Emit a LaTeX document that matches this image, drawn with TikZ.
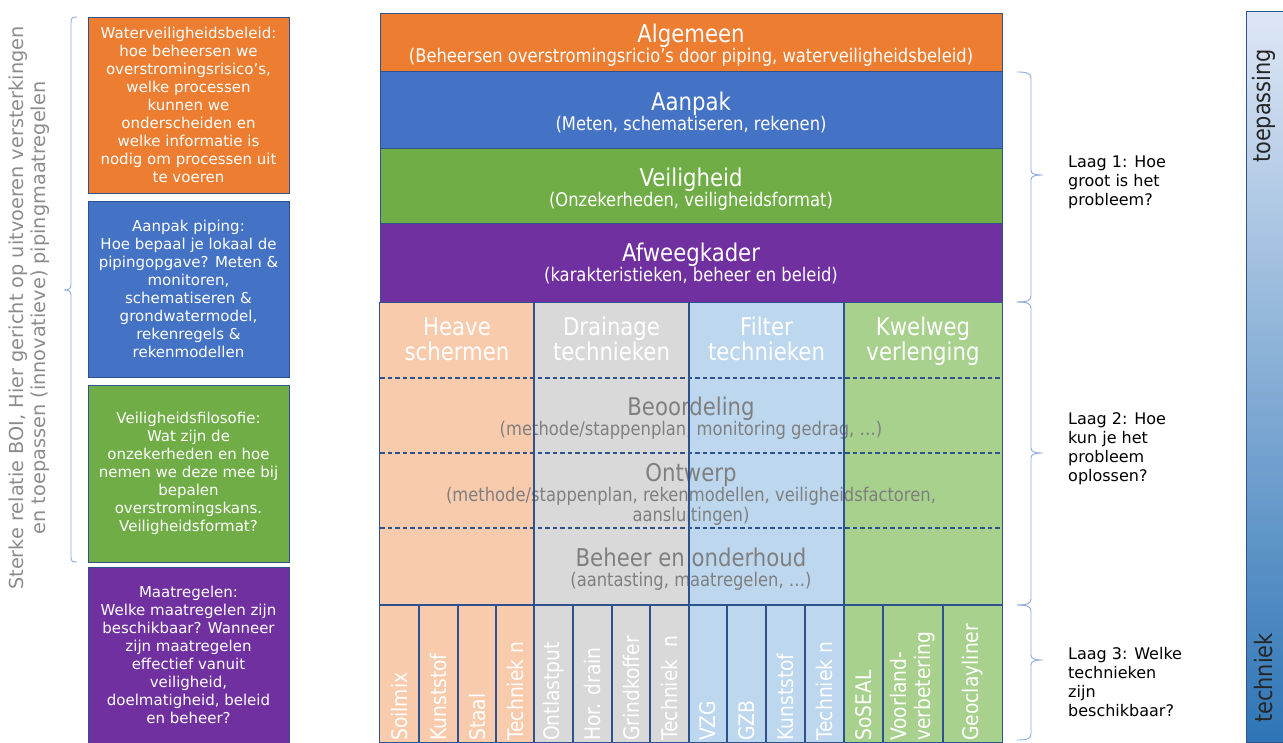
\documentclass[tikz,border=0pt]{standalone}
\usepackage{fontspec}
\setmainfont{DejaVu Sans}
\newfontfamily\smalfont[FakeStretch=0.87]{DejaVu Sans}
\usetikzlibrary{positioning}

\definecolor{oranje}{HTML}{ED7D31}
\definecolor{blauw}{HTML}{4472C4}
\definecolor{groen}{HTML}{70AD47}
\definecolor{paars}{HTML}{7030A0}
\definecolor{lichtoranje}{HTML}{F8CBAD}
\definecolor{lichtgrijs}{HTML}{D9D9D9}
\definecolor{lichtblauw}{HTML}{BDD7EE}
\definecolor{lichtgroen}{HTML}{A9D18E}
\definecolor{rand}{HTML}{2F528F}
\definecolor{haak}{HTML}{8FAADC}
\definecolor{tekstgrijs}{HTML}{7F7F7F}
\definecolor{zijgrijs}{HTML}{8C8C8C}
\definecolor{balkboven}{HTML}{DEE7F5}
\definecolor{balkonder}{HTML}{2E75B6}

\begin{document}
\begin{tikzpicture}[x=1pt,y=-1pt,
		vak/.style={draw=rand, line width=0.6pt, inner sep=0pt, align=center, text=white, minimum width=201pt, font=\fontsize{15}{18}\selectfont},
		rij/.style={draw=rand, line width=0.6pt, minimum width=622pt, inner sep=0pt},
		kolom/.style={inner sep=0pt, minimum height=439pt},
		titel/.style={text=white, inner sep=0pt, text height=18pt, text depth=6pt, font=\smalfont\fontsize{24.4}{26}\selectfont},
		sub/.style={text=white, inner sep=0pt, text height=14pt, text depth=4.7pt, font=\smalfont\fontsize{18.8}{20}\selectfont},
		grijs/.style={text=tekstgrijs},
		stippel/.style={draw=rand, line width=1.1pt, dash pattern=on 4.5pt off 3pt},
		cel/.style={draw=rand, line width=1.1pt},
		techniek/.style={text=white, rotate=90, anchor=west, inner sep=0pt, align=left, font=\smalfont\fontsize{21.5}{24}\selectfont},
		haakje/.style={draw=haak, line width=0.9pt},
		laagtekst/.style={anchor=west, align=left, inner sep=0pt, font=\fontsize{16}{19}\selectfont},
		balktekst/.style={rotate=90, inner sep=0pt, text=black!85, font=\smalfont\fontsize{24}{26}\selectfont},
	]
	\useasboundingbox (0,0) rectangle (1283,742);

	% 左侧竖排说明
	\node[rotate=90, align=center, text=zijgrijs, inner sep=0pt, font=\fontsize{19.3}{22.5}\selectfont] (relatie) at (29,308)
		{Sterke relatie BOI, Hier gericht op uitvoeren versterkingen\\en toepassen (innovatieve) pipingmaatregelen};
	% 左侧括号
	\draw[haakje] (77,17) .. controls (72,17) and (71,18) .. (71,23) -- (71,285)
		.. controls (71,289) and (68,290) .. (64,290) .. controls (68,290) and (71,291) .. (71,295)
		-- (71,557) .. controls (71,561) and (72,562) .. (77,562);

	% 左侧说明框
	\node[vak, fill=oranje, minimum height=176pt] (beleid) at (188.5,105)
		{Waterveiligheidsbeleid:\\hoe beheersen we\\overstromingsrisico’s,\\welke processen\\kunnen we\\onderscheiden en\\welke informatie is\\nodig om processen uit\\te voeren};
	\node[vak, fill=blauw, minimum height=176pt] (piping) at (188.5,289)
		{Aanpak piping:\\Hoe bepaal je lokaal de\\pipingopgave? Meten \&\\monitoren,\\schematiseren \&\\grondwatermodel,\\rekenregels \&\\rekenmodellen};
	\node[vak, fill=groen, minimum height=177pt] (filosofie) at (188.5,473.5)
		{Veiligheidsfilosofie:\\Wat zijn de\\onzekerheden en hoe\\nemen we deze mee bij\\bepalen\\overstromingskans.\\Veiligheidsformat?};
	\node[vak, fill=paars, minimum height=176pt] (maatregelen) at (188.5,655)
		{Maatregelen:\\Welke maatregelen zijn\\beschikbaar? Wanneer\\zijn maatregelen\\effectief vanuit\\veiligheid,\\doelmatigheid, beleid\\en beheer?};

	% 上部四层
	\node[rij, fill=oranje, minimum height=58pt] (algemeen) at (691,42) {};
	\node[titel] (algemeenT) at (691,36.5) {Algemeen};
	\node[sub] (algemeenS) at (691,57.5) {(Beheersen overstromingsricio’s door piping, waterveiligheidsbeleid)};
	\node[rij, fill=blauw, minimum height=77pt] (aanpak) at (691,109.5) {};
	\node[titel] (aanpakT) at (691,104.5) {Aanpak};
	\node[sub] (aanpakS) at (691,125.5) {(Meten, schematiseren, rekenen)};
	\node[rij, fill=groen, minimum height=75pt] (veiligheid) at (691,185.5) {};
	\node[titel] (veiligheidT) at (691,180.5) {Veiligheid};
	\node[sub] (veiligheidS) at (691,202) {(Onzekerheden, veiligheidsformat)};
	\node[rij, fill=paars, minimum height=80pt] (afweeg) at (691,263) {};
	\node[titel] (afweegT) at (691,255.5) {Afweegkader};
	\node[sub] (afweegS) at (691,277) {(karakteristieken, beheer en beleid)};

	% 四列底色
	\node[kolom, fill=lichtoranje, minimum width=154pt] (heave) at (457,522.5) {};
	\node[kolom, fill=lichtgrijs, minimum width=155pt] (drainage) at (611.5,522.5) {};
	\node[kolom, fill=lichtblauw, minimum width=155pt] (filter) at (766.5,522.5) {};
	\node[kolom, fill=lichtgroen, minimum width=158pt] (kwelweg) at (923,522.5) {};

	% 列标题
	\node[titel] (heaveA) at (457,329) {Heave};
	\node[titel] (heaveB) at (457,354) {schermen};
	\node[titel] (drainageA) at (611.5,329) {Drainage};
	\node[titel] (drainageB) at (611.5,354) {technieken};
	\node[titel] (filterA) at (766.5,329) {Filter};
	\node[titel] (filterB) at (766.5,354) {technieken};
	\node[titel] (kwelwegA) at (923,329) {Kwelweg};
	\node[titel] (kwelwegB) at (923,354) {verlenging};

	% 灰色文字
	\node[titel, grijs] (beoordeling) at (691,409) {Beoordeling};
	\node[sub, grijs] (beoordelingS) at (691,431) {(methode/stappenplan, monitoring gedrag, …)};
	\node[titel, grijs] (ontwerp) at (691,475) {Ontwerp};
	\node[sub, grijs] (ontwerpS) at (691,497) {(methode/stappenplan, rekenmodellen, veiligheidsfactoren,};
	\node[sub, grijs] (ontwerpT) at (691,516.5) {aansluitingen)};
	\node[titel, grijs] (beheer) at (691,560) {Beheer en onderhoud};
	\node[sub, grijs] (beheerS) at (691,582) {(aantasting, maatregelen, …)};

	% 虚线
	\draw[stippel] (380,378) -- (1002,378);
	\draw[stippel] (380,453) -- (1002,453);
	\draw[stippel] (380,528) -- (1002,528);

	% 列边框和底部格子
	\draw[cel] (heave.north west) rectangle (heave.south east);
	\draw[cel] (drainage.north west) rectangle (drainage.south east);
	\draw[cel] (filter.north west) rectangle (filter.south east);
	\draw[cel] (kwelweg.north west) rectangle (kwelweg.south east);
	\draw[cel] (380,605) -- (1002,605);
	\draw[cel] (419,605) -- (419,742);
	\draw[cel] (458,605) -- (458,742);
	\draw[cel] (496,605) -- (496,742);
	\draw[cel] (573,605) -- (573,742);
	\draw[cel] (612,605) -- (612,742);
	\draw[cel] (650,605) -- (650,742);
	\draw[cel] (727,605) -- (727,742);
	\draw[cel] (766,605) -- (766,742);
	\draw[cel] (805,605) -- (805,742);
	\draw[cel] (883,605) -- (883,742);
	\draw[cel] (943,605) -- (943,742);

	% 技术名称
	\node[techniek] (soilmix) at (399.5,741) {Soilmix};
	\node[techniek] (kunststofH) at (438.5,741) {Kunststof};
	\node[techniek] (staal) at (477,741) {Staal};
	\node[techniek] (techniekH) at (515,741) {Techniek n};
	\node[techniek] (ontlastput) at (553.5,741) {Ontlastput};
	\node[techniek] (hordrain) at (592.5,741) {Hor. drain};
	\node[techniek] (grindkoffer) at (631,741) {Grindkoffer};
	\node[techniek] (techniekD) at (669.5,741) {Techniek\ \ n};
	\node[techniek] (vzg) at (708,741) {VZG};
	\node[techniek] (gzb) at (746.5,741) {GZB};
	\node[techniek] (kunststofF) at (785.5,741) {Kunststof};
	\node[techniek] (techniekF) at (824.5,741) {Techniek n};
	\node[techniek] (soseal) at (863.5,741) {SoSEAL};
	\node[techniek] (voorland) at (913,741) {Voorland-\\verbetering};
	\node[techniek] (geoclay) at (972.5,741) {Geoclayliner};

	% 右侧括号
	\draw[haakje] (1017,72) .. controls (1026,72) and (1031,73) .. (1031,78) -- (1031,170)
		.. controls (1031,174) and (1035,175) .. (1043,175) .. controls (1035,175) and (1031,176) .. (1031,180)
		-- (1031,296) .. controls (1031,301) and (1026,302) .. (1017,302);
	\draw[haakje] (1017,302) .. controls (1026,302) and (1031,303) .. (1031,308) -- (1031,448)
		.. controls (1031,452) and (1035,453) .. (1043,453) .. controls (1035,453) and (1031,454) .. (1031,458)
		-- (1031,599) .. controls (1031,604) and (1026,605) .. (1017,605);
	\draw[haakje] (1017,605) .. controls (1026,605) and (1031,606) .. (1031,611) -- (1031,655)
		.. controls (1031,659) and (1035,660) .. (1043,660) .. controls (1035,660) and (1031,661) .. (1031,665)
		-- (1031,734) .. controls (1031,739) and (1026,740) .. (1017,740);

	% 层说明
	\node[laagtekst] (laag1) at (1068,182) {Laag 1: Hoe\\groot is het\\probleem?};
	\node[laagtekst] (laag2) at (1068,448.5) {Laag 2: Hoe\\kun je het\\probleem\\oplossen?};
	\node[laagtekst] (laag3) at (1068,682) {Laag 3: Welke\\technieken\\zijn\\beschikbaar?};

	% 右侧渐变条
	\node[draw=rand, line width=0.8pt, top color=balkboven, bottom color=balkonder, minimum width=37pt, minimum height=731pt, inner sep=0pt] (balk) at (1264.5,376.5) {};
	\node[balktekst] (toepassing) at (1264,106) {toepassing};
	\node[balktekst] (techniek) at (1264,678) {techniek};
\end{tikzpicture}
\end{document}
